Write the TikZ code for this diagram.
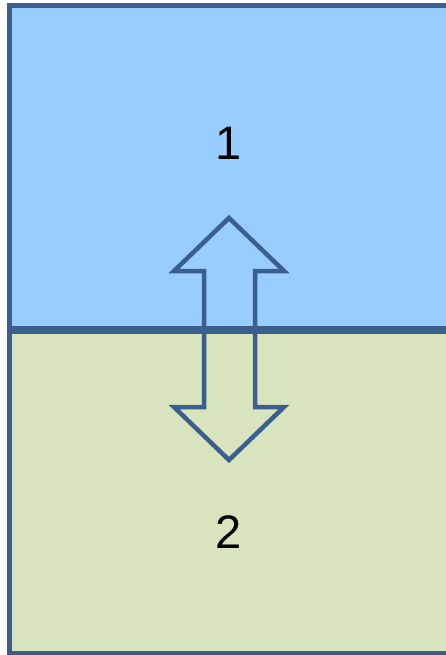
\documentclass[tikz,border=0pt]{standalone}
\usepackage{fontspec}
\setmainfont{Liberation Sans}
\definecolor{edgeblue}{HTML}{3A5F8E}
\definecolor{topfill}{HTML}{99CCFF}
\definecolor{botfill}{HTML}{D7E4BD}
\begin{document}
\begin{tikzpicture}[x=1pt,y=-1pt,
  box/.style={draw=edgeblue,line width=5pt},
  num/.style={font=\fontsize{47}{50}\selectfont,text=black,inner sep=0pt},
  dblarrow/.style={draw=edgeblue,line width=4.5pt,line join=miter}]
\useasboundingbox (0,0) rectangle (445,655);
\fill[white] (0,0) rectangle (445,655);
\draw[box,fill=topfill] (9.5,6) rectangle (470,328.5);
\draw[box,fill=botfill] (9.5,331.5) rectangle (470,653);
\node[num] (one) at (229,143) {1};
\node[num] (two) at (229,532) {2};
\draw[dblarrow] (229,218) -- (284,271) -- (255,271) -- (255,407) -- (284,407) -- (229,460)
  -- (174,407) -- (204,407) -- (204,271) -- (174,271) -- cycle;
\end{tikzpicture}
\end{document}
